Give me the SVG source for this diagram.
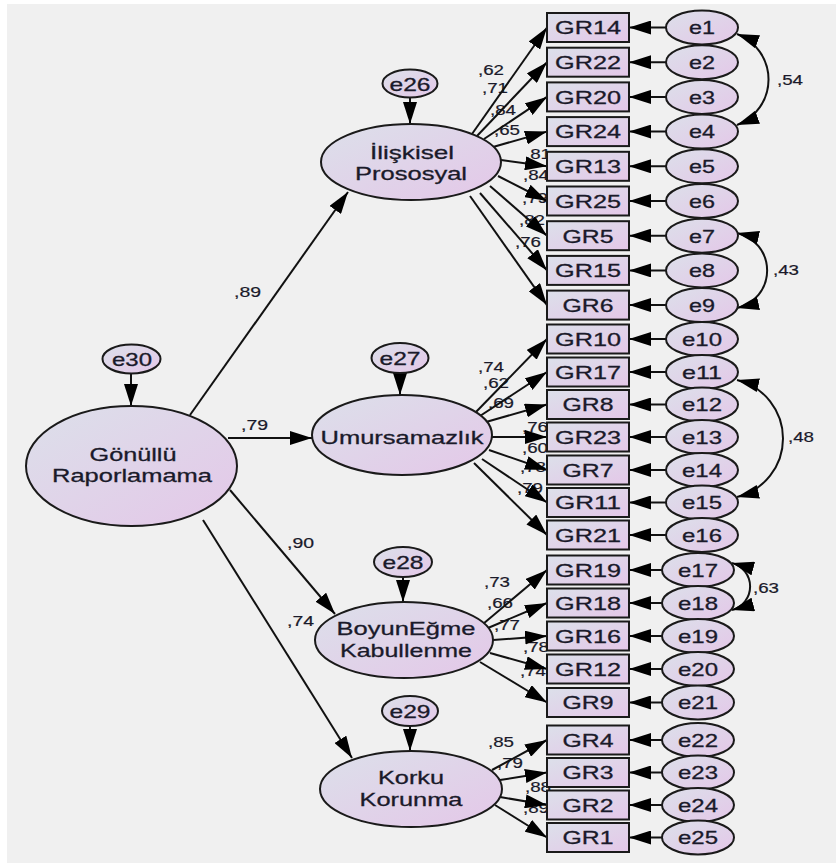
<svg xmlns="http://www.w3.org/2000/svg" width="836" height="863" viewBox="0 0 836 863">
<defs>
<linearGradient id="g" x1="0" y1="0" x2="1" y2="1">
<stop offset="0" stop-color="#dce0ea"/>
<stop offset="1" stop-color="#e4c7e8"/>
</linearGradient>
<marker id="ah" viewBox="0 0 22 14" refX="22" refY="7" markerWidth="22" markerHeight="14" markerUnits="userSpaceOnUse" orient="auto-start-reverse">
<path d="M0,0 L22,7 L0,14 z" fill="#000"/>
</marker>
<style>
.n{fill:url(#g);stroke:#1a1a1a;stroke-width:2}
text{font-family:"Liberation Sans",Arial,sans-serif;fill:#1a1a2a;stroke:#1a1a2a;stroke-width:0.3}
.lat{font-size:19px;text-anchor:middle}
.obs{font-size:19px;text-anchor:middle}
.err{font-size:18.5px;text-anchor:middle}
.w{font-size:14px;stroke-width:0.2}
.c line,.c path{stroke:#111;stroke-width:2;fill:none;marker-end:url(#ah)}
.c path.cov{marker-start:url(#ah)}
</style>
</defs>
<rect x="0" y="0" width="836" height="863" fill="#ffffff"/>
<rect x="7" y="4" width="829" height="859" fill="#f0f0f0"/>

<g id="labels">
<text class="w" x="234" y="297" textLength="27" lengthAdjust="spacingAndGlyphs">,89</text>
<text class="w" x="241" y="430" textLength="27" lengthAdjust="spacingAndGlyphs">,79</text>
<text class="w" x="287" y="548" textLength="27" lengthAdjust="spacingAndGlyphs">,90</text>
<text class="w" x="287" y="626" textLength="27" lengthAdjust="spacingAndGlyphs">,74</text>
<text class="w" x="478" y="75" textLength="26" lengthAdjust="spacingAndGlyphs">,62</text>
<text class="w" x="482" y="93" textLength="26" lengthAdjust="spacingAndGlyphs">,71</text>
<text class="w" x="490" y="115" textLength="26" lengthAdjust="spacingAndGlyphs">,84</text>
<text class="w" x="494" y="135" textLength="26" lengthAdjust="spacingAndGlyphs">,65</text>
<text class="w" x="525" y="159" textLength="26" lengthAdjust="spacingAndGlyphs">,81</text>
<text class="w" x="523" y="180" textLength="26" lengthAdjust="spacingAndGlyphs">,84</text>
<text class="w" x="522" y="203" textLength="26" lengthAdjust="spacingAndGlyphs">,79</text>
<text class="w" x="519" y="225" textLength="26" lengthAdjust="spacingAndGlyphs">,82</text>
<text class="w" x="515" y="247" textLength="26" lengthAdjust="spacingAndGlyphs">,76</text>
<text class="w" x="478" y="372" textLength="26" lengthAdjust="spacingAndGlyphs">,74</text>
<text class="w" x="483" y="388" textLength="26" lengthAdjust="spacingAndGlyphs">,62</text>
<text class="w" x="488" y="408" textLength="26" lengthAdjust="spacingAndGlyphs">,69</text>
<text class="w" x="522" y="432" textLength="26" lengthAdjust="spacingAndGlyphs">,76</text>
<text class="w" x="522" y="453" textLength="26" lengthAdjust="spacingAndGlyphs">,60</text>
<text class="w" x="520" y="472" textLength="26" lengthAdjust="spacingAndGlyphs">,78</text>
<text class="w" x="517" y="493" textLength="26" lengthAdjust="spacingAndGlyphs">,79</text>
<text class="w" x="484" y="587" textLength="26" lengthAdjust="spacingAndGlyphs">,73</text>
<text class="w" x="487" y="608" textLength="26" lengthAdjust="spacingAndGlyphs">,66</text>
<text class="w" x="494" y="630" textLength="26" lengthAdjust="spacingAndGlyphs">,77</text>
<text class="w" x="523" y="652" textLength="26" lengthAdjust="spacingAndGlyphs">,78</text>
<text class="w" x="520" y="676" textLength="26" lengthAdjust="spacingAndGlyphs">,74</text>
<text class="w" x="488" y="747" textLength="26" lengthAdjust="spacingAndGlyphs">,85</text>
<text class="w" x="497" y="768" textLength="26" lengthAdjust="spacingAndGlyphs">,79</text>
<text class="w" x="525" y="792" textLength="26" lengthAdjust="spacingAndGlyphs">,88</text>
<text class="w" x="523" y="813" textLength="26" lengthAdjust="spacingAndGlyphs">,89</text>
<text class="w" x="777" y="85" textLength="26" lengthAdjust="spacingAndGlyphs">,54</text>
<text class="w" x="773" y="275" textLength="26" lengthAdjust="spacingAndGlyphs">,43</text>
<text class="w" x="788" y="442" textLength="26" lengthAdjust="spacingAndGlyphs">,48</text>
<text class="w" x="753" y="593" textLength="26" lengthAdjust="spacingAndGlyphs">,63</text>
</g>

<g id="connectors" class="c">
<line x1="190" y1="415" x2="348" y2="192"/>
<line x1="228" y1="438" x2="312" y2="438"/>
<line x1="230" y1="490" x2="335" y2="614"/>
<line x1="203" y1="520" x2="352" y2="758"/>
<line x1="131" y1="373" x2="131" y2="406"/>
<line x1="410" y1="97" x2="410" y2="124"/>
<line x1="400" y1="373" x2="400" y2="395"/>
<line x1="403" y1="577" x2="403" y2="602"/>
<line x1="410" y1="726" x2="410" y2="751"/>
<line x1="472" y1="134" x2="547" y2="27.5"/>
<line x1="477" y1="136" x2="547" y2="62.2"/>
<line x1="484" y1="139" x2="547" y2="96.9"/>
<line x1="493" y1="147" x2="547" y2="131.6"/>
<line x1="501" y1="160" x2="547" y2="166.3"/>
<line x1="498" y1="176" x2="547" y2="201"/>
<line x1="490" y1="186" x2="547" y2="235.7"/>
<line x1="480" y1="193" x2="547" y2="270.4"/>
<line x1="470" y1="196" x2="547" y2="305.1"/>
<line x1="475" y1="413" x2="547" y2="339"/>
<line x1="480" y1="416" x2="547" y2="372"/>
<line x1="486" y1="422" x2="547" y2="404.5"/>
<line x1="492" y1="437" x2="547" y2="437"/>
<line x1="489" y1="450" x2="547" y2="470"/>
<line x1="482" y1="459" x2="547" y2="502.5"/>
<line x1="474" y1="463" x2="547" y2="535"/>
<line x1="483" y1="624" x2="547" y2="570"/>
<line x1="488" y1="628" x2="547" y2="603"/>
<line x1="493" y1="640" x2="547" y2="636"/>
<line x1="490" y1="653" x2="547" y2="669"/>
<line x1="480" y1="662" x2="547" y2="702.5"/>
<line x1="492" y1="770" x2="547" y2="740"/>
<line x1="500" y1="780" x2="547" y2="772.5"/>
<line x1="500" y1="797" x2="547" y2="805"/>
<line x1="495" y1="805" x2="547" y2="837.5"/>
<line x1="666" y1="27.5" x2="629" y2="27.5"/>
<line x1="666" y1="62.2" x2="629" y2="62.2"/>
<line x1="666" y1="96.9" x2="629" y2="96.9"/>
<line x1="666" y1="131.6" x2="629" y2="131.6"/>
<line x1="666" y1="166.3" x2="629" y2="166.3"/>
<line x1="666" y1="201" x2="629" y2="201"/>
<line x1="666" y1="235.7" x2="629" y2="235.7"/>
<line x1="666" y1="270.4" x2="629" y2="270.4"/>
<line x1="666" y1="305.1" x2="629" y2="305.1"/>
<line x1="666" y1="339" x2="629" y2="339"/>
<line x1="666" y1="372" x2="629" y2="372"/>
<line x1="666" y1="404.5" x2="629" y2="404.5"/>
<line x1="666" y1="437" x2="629" y2="437"/>
<line x1="666" y1="470" x2="629" y2="470"/>
<line x1="666" y1="502.5" x2="629" y2="502.5"/>
<line x1="666" y1="535" x2="629" y2="535"/>
<line x1="662" y1="570" x2="629" y2="570"/>
<line x1="662" y1="603" x2="629" y2="603"/>
<line x1="662" y1="636" x2="629" y2="636"/>
<line x1="662" y1="669" x2="629" y2="669"/>
<line x1="662" y1="702.5" x2="629" y2="702.5"/>
<line x1="662" y1="740" x2="629" y2="740"/>
<line x1="662" y1="772.5" x2="629" y2="772.5"/>
<line x1="662" y1="805" x2="629" y2="805"/>
<line x1="662" y1="837.5" x2="629" y2="837.5"/>
<path class="cov" d="M737,34 A48.6,48.6 0 0 1 737,125"/>
<path class="cov" d="M737,233 A38.4,38.4 0 0 1 737,308"/>
<path class="cov" d="M737,380 A60.2,60.2 0 0 1 737,497"/>
<path class="cov" d="M732,563 A24.3,24.3 0 0 1 732,610"/>
</g>

<g id="n-gonullu"><ellipse class="n" cx="131.5" cy="466" rx="105.5" ry="60"/><text class="lat" x="133" y="461" textLength="87" lengthAdjust="spacingAndGlyphs">Gönüllü</text><text class="lat" x="132" y="482" textLength="160" lengthAdjust="spacingAndGlyphs">Raporlamama</text></g>
<g id="n-e30"><ellipse class="n" cx="131.5" cy="359" rx="29" ry="14.5"/><text class="err" x="132" y="366" textLength="40" lengthAdjust="spacingAndGlyphs">e30</text></g>
<g id="n-iliskisel"><ellipse class="n" cx="411" cy="162" rx="90" ry="38"/><text class="lat" x="412" y="159" textLength="84" lengthAdjust="spacingAndGlyphs">İlişkisel</text><text class="lat" x="411" y="180" textLength="112" lengthAdjust="spacingAndGlyphs">Prososyal</text></g>
<g id="n-e26"><ellipse class="n" cx="410" cy="83.5" rx="27.5" ry="14"/><text class="err" x="410" y="90.5" textLength="41" lengthAdjust="spacingAndGlyphs">e26</text></g>
<g id="n-umursamazlik"><ellipse class="n" cx="402" cy="435" rx="90" ry="40"/><text class="lat" x="402" y="444" textLength="163" lengthAdjust="spacingAndGlyphs">Umursamazlık</text></g>
<g id="n-e27"><ellipse class="n" cx="400" cy="358" rx="28.5" ry="15"/><text class="err" x="400" y="365" textLength="41" lengthAdjust="spacingAndGlyphs">e27</text></g>
<g id="n-boyunegme"><ellipse class="n" cx="404" cy="640" rx="89" ry="38"/><text class="lat" x="406" y="635" textLength="139" lengthAdjust="spacingAndGlyphs">BoyunEğme</text><text class="lat" x="406" y="657" textLength="132" lengthAdjust="spacingAndGlyphs">Kabullenme</text></g>
<g id="n-e28"><ellipse class="n" cx="403" cy="562" rx="29" ry="15"/><text class="err" x="403" y="569" textLength="41" lengthAdjust="spacingAndGlyphs">e28</text></g>
<g id="n-korku"><ellipse class="n" cx="411" cy="789" rx="91" ry="38"/><text class="lat" x="411" y="784" textLength="66" lengthAdjust="spacingAndGlyphs">Korku</text><text class="lat" x="411" y="806" textLength="103" lengthAdjust="spacingAndGlyphs">Korunma</text></g>
<g id="n-e29"><ellipse class="n" cx="410" cy="711" rx="28" ry="15"/><text class="err" x="410" y="718" textLength="41" lengthAdjust="spacingAndGlyphs">e29</text></g>

<g id="n-GR14"><rect class="n" x="547" y="13" width="82" height="29"/><text class="obs" x="588" y="34.3" textLength="66" lengthAdjust="spacingAndGlyphs">GR14</text></g>
<g id="n-GR22"><rect class="n" x="547" y="47.7" width="82" height="29"/><text class="obs" x="588" y="69" textLength="66" lengthAdjust="spacingAndGlyphs">GR22</text></g>
<g id="n-GR20"><rect class="n" x="547" y="82.4" width="82" height="29"/><text class="obs" x="588" y="103.7" textLength="66" lengthAdjust="spacingAndGlyphs">GR20</text></g>
<g id="n-GR24"><rect class="n" x="547" y="117.1" width="82" height="29"/><text class="obs" x="588" y="138.4" textLength="66" lengthAdjust="spacingAndGlyphs">GR24</text></g>
<g id="n-GR13"><rect class="n" x="547" y="151.8" width="82" height="29"/><text class="obs" x="588" y="173.1" textLength="66" lengthAdjust="spacingAndGlyphs">GR13</text></g>
<g id="n-GR25"><rect class="n" x="547" y="186.5" width="82" height="29"/><text class="obs" x="588" y="207.8" textLength="66" lengthAdjust="spacingAndGlyphs">GR25</text></g>
<g id="n-GR5"><rect class="n" x="547" y="221.2" width="82" height="29"/><text class="obs" x="588" y="242.5" textLength="51" lengthAdjust="spacingAndGlyphs">GR5</text></g>
<g id="n-GR15"><rect class="n" x="547" y="255.9" width="82" height="29"/><text class="obs" x="588" y="277.2" textLength="66" lengthAdjust="spacingAndGlyphs">GR15</text></g>
<g id="n-GR6"><rect class="n" x="547" y="290.6" width="82" height="29"/><text class="obs" x="588" y="311.9" textLength="51" lengthAdjust="spacingAndGlyphs">GR6</text></g>
<g id="n-GR10"><rect class="n" x="547" y="324.5" width="82" height="29"/><text class="obs" x="588" y="345.8" textLength="66" lengthAdjust="spacingAndGlyphs">GR10</text></g>
<g id="n-GR17"><rect class="n" x="547" y="357.5" width="82" height="29"/><text class="obs" x="588" y="378.8" textLength="66" lengthAdjust="spacingAndGlyphs">GR17</text></g>
<g id="n-GR8"><rect class="n" x="547" y="390" width="82" height="29"/><text class="obs" x="588" y="411.3" textLength="51" lengthAdjust="spacingAndGlyphs">GR8</text></g>
<g id="n-GR23"><rect class="n" x="547" y="422.5" width="82" height="29"/><text class="obs" x="588" y="443.8" textLength="66" lengthAdjust="spacingAndGlyphs">GR23</text></g>
<g id="n-GR7"><rect class="n" x="547" y="455.5" width="82" height="29"/><text class="obs" x="588" y="476.8" textLength="51" lengthAdjust="spacingAndGlyphs">GR7</text></g>
<g id="n-GR11"><rect class="n" x="547" y="488" width="82" height="29"/><text class="obs" x="588" y="509.3" textLength="66" lengthAdjust="spacingAndGlyphs">GR11</text></g>
<g id="n-GR21"><rect class="n" x="547" y="520.5" width="82" height="29"/><text class="obs" x="588" y="541.8" textLength="66" lengthAdjust="spacingAndGlyphs">GR21</text></g>
<g id="n-GR19"><rect class="n" x="547" y="555.5" width="82" height="29"/><text class="obs" x="588" y="576.8" textLength="66" lengthAdjust="spacingAndGlyphs">GR19</text></g>
<g id="n-GR18"><rect class="n" x="547" y="588.5" width="82" height="29"/><text class="obs" x="588" y="609.8" textLength="66" lengthAdjust="spacingAndGlyphs">GR18</text></g>
<g id="n-GR16"><rect class="n" x="547" y="621.5" width="82" height="29"/><text class="obs" x="588" y="642.8" textLength="66" lengthAdjust="spacingAndGlyphs">GR16</text></g>
<g id="n-GR12"><rect class="n" x="547" y="654.5" width="82" height="29"/><text class="obs" x="588" y="675.8" textLength="66" lengthAdjust="spacingAndGlyphs">GR12</text></g>
<g id="n-GR9"><rect class="n" x="547" y="688" width="82" height="29"/><text class="obs" x="588" y="709.3" textLength="51" lengthAdjust="spacingAndGlyphs">GR9</text></g>
<g id="n-GR4"><rect class="n" x="547" y="725.5" width="82" height="29"/><text class="obs" x="588" y="746.8" textLength="51" lengthAdjust="spacingAndGlyphs">GR4</text></g>
<g id="n-GR3"><rect class="n" x="547" y="758" width="82" height="29"/><text class="obs" x="588" y="779.3" textLength="51" lengthAdjust="spacingAndGlyphs">GR3</text></g>
<g id="n-GR2"><rect class="n" x="547" y="790.5" width="82" height="29"/><text class="obs" x="588" y="811.8" textLength="51" lengthAdjust="spacingAndGlyphs">GR2</text></g>
<g id="n-GR1"><rect class="n" x="547" y="823" width="82" height="29"/><text class="obs" x="588" y="844.3" textLength="51" lengthAdjust="spacingAndGlyphs">GR1</text></g>

<g id="n-e1"><ellipse class="n" cx="702" cy="27.5" rx="36" ry="17"/><text class="err" x="702" y="34.3" textLength="26" lengthAdjust="spacingAndGlyphs">e1</text></g>
<g id="n-e2"><ellipse class="n" cx="702" cy="62.2" rx="36" ry="17"/><text class="err" x="702" y="69" textLength="26" lengthAdjust="spacingAndGlyphs">e2</text></g>
<g id="n-e3"><ellipse class="n" cx="702" cy="96.9" rx="36" ry="17"/><text class="err" x="702" y="103.7" textLength="26" lengthAdjust="spacingAndGlyphs">e3</text></g>
<g id="n-e4"><ellipse class="n" cx="702" cy="131.6" rx="36" ry="17"/><text class="err" x="702" y="138.4" textLength="26" lengthAdjust="spacingAndGlyphs">e4</text></g>
<g id="n-e5"><ellipse class="n" cx="702" cy="166.3" rx="36" ry="17"/><text class="err" x="702" y="173.1" textLength="26" lengthAdjust="spacingAndGlyphs">e5</text></g>
<g id="n-e6"><ellipse class="n" cx="702" cy="201" rx="36" ry="17"/><text class="err" x="702" y="207.8" textLength="26" lengthAdjust="spacingAndGlyphs">e6</text></g>
<g id="n-e7"><ellipse class="n" cx="702" cy="235.7" rx="36" ry="17"/><text class="err" x="702" y="242.5" textLength="26" lengthAdjust="spacingAndGlyphs">e7</text></g>
<g id="n-e8"><ellipse class="n" cx="702" cy="270.4" rx="36" ry="17"/><text class="err" x="702" y="277.2" textLength="26" lengthAdjust="spacingAndGlyphs">e8</text></g>
<g id="n-e9"><ellipse class="n" cx="702" cy="305.1" rx="36" ry="17"/><text class="err" x="702" y="311.9" textLength="26" lengthAdjust="spacingAndGlyphs">e9</text></g>
<g id="n-e10"><ellipse class="n" cx="702" cy="339" rx="36" ry="17"/><text class="err" x="702" y="345.8" textLength="40" lengthAdjust="spacingAndGlyphs">e10</text></g>
<g id="n-e11"><ellipse class="n" cx="702" cy="372" rx="36" ry="17"/><text class="err" x="702" y="378.8" textLength="40" lengthAdjust="spacingAndGlyphs">e11</text></g>
<g id="n-e12"><ellipse class="n" cx="702" cy="404.5" rx="36" ry="17"/><text class="err" x="702" y="411.3" textLength="40" lengthAdjust="spacingAndGlyphs">e12</text></g>
<g id="n-e13"><ellipse class="n" cx="702" cy="437" rx="36" ry="17"/><text class="err" x="702" y="443.8" textLength="40" lengthAdjust="spacingAndGlyphs">e13</text></g>
<g id="n-e14"><ellipse class="n" cx="702" cy="470" rx="36" ry="17"/><text class="err" x="702" y="476.8" textLength="40" lengthAdjust="spacingAndGlyphs">e14</text></g>
<g id="n-e15"><ellipse class="n" cx="702" cy="502.5" rx="36" ry="17"/><text class="err" x="702" y="509.3" textLength="40" lengthAdjust="spacingAndGlyphs">e15</text></g>
<g id="n-e16"><ellipse class="n" cx="702" cy="535" rx="36" ry="17"/><text class="err" x="702" y="541.8" textLength="40" lengthAdjust="spacingAndGlyphs">e16</text></g>
<g id="n-e17"><ellipse class="n" cx="698" cy="570" rx="36" ry="17"/><text class="err" x="698" y="576.8" textLength="40" lengthAdjust="spacingAndGlyphs">e17</text></g>
<g id="n-e18"><ellipse class="n" cx="698" cy="603" rx="36" ry="17"/><text class="err" x="698" y="609.8" textLength="40" lengthAdjust="spacingAndGlyphs">e18</text></g>
<g id="n-e19"><ellipse class="n" cx="698" cy="636" rx="36" ry="17"/><text class="err" x="698" y="642.8" textLength="40" lengthAdjust="spacingAndGlyphs">e19</text></g>
<g id="n-e20"><ellipse class="n" cx="698" cy="669" rx="36" ry="17"/><text class="err" x="698" y="675.8" textLength="40" lengthAdjust="spacingAndGlyphs">e20</text></g>
<g id="n-e21"><ellipse class="n" cx="698" cy="702.5" rx="36" ry="17"/><text class="err" x="698" y="709.3" textLength="40" lengthAdjust="spacingAndGlyphs">e21</text></g>
<g id="n-e22"><ellipse class="n" cx="698" cy="740" rx="36" ry="17"/><text class="err" x="698" y="746.8" textLength="40" lengthAdjust="spacingAndGlyphs">e22</text></g>
<g id="n-e23"><ellipse class="n" cx="698" cy="772.5" rx="36" ry="17"/><text class="err" x="698" y="779.3" textLength="40" lengthAdjust="spacingAndGlyphs">e23</text></g>
<g id="n-e24"><ellipse class="n" cx="698" cy="805" rx="36" ry="17"/><text class="err" x="698" y="811.8" textLength="40" lengthAdjust="spacingAndGlyphs">e24</text></g>
<g id="n-e25"><ellipse class="n" cx="698" cy="837.5" rx="36" ry="17"/><text class="err" x="698" y="844.3" textLength="40" lengthAdjust="spacingAndGlyphs">e25</text></g>
</svg>
